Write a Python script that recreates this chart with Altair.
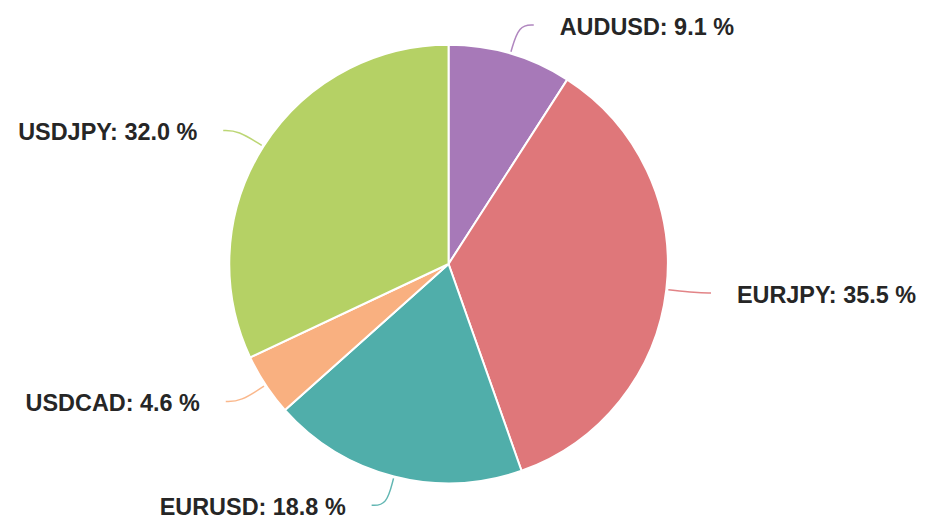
import altair as alt
import pandas as pd

pairs = ["AUDUSD", "EURJPY", "EURUSD", "USDCAD", "USDJPY"]
shares = [9.1, 35.5, 18.8, 4.6, 32.0]
colors = ["#a779b8", "#df777a", "#50aeaa", "#f9b080", "#b5d165"]

df = pd.DataFrame({"pair": pairs, "share": shares, "idx": list(range(len(pairs)))})

W, H = 884, 512
xs = alt.Scale(domain=[-W / 2, W / 2], nice=False, zero=False)
ys = alt.Scale(domain=[-H / 2, H / 2], nice=False, zero=False)
cscale = alt.Scale(domain=pairs, range=colors)

base = (
    alt.Chart(df)
    .transform_joinaggregate(total="sum(share)")
    .transform_window(cum="sum(share)", sort=[alt.SortField("idx")], frame=[None, 0])
    .transform_calculate(
        a="2*PI*(datum.cum - datum.share/2)/datum.total",
    )
    .transform_calculate(s="sin(datum.a)", c="cos(datum.a)")
)

arcs = (
    alt.Chart(df)
    .mark_arc(outerRadius=220, stroke="white", strokeWidth=2)
    .encode(
        theta=alt.Theta("share:Q", stack=True),
        color=alt.Color("pair:N", scale=cscale, legend=None),
        order=alt.Order("idx:Q"),
    )
)

lines = (
    base.transform_calculate(k="[0,1,2]")
    .transform_flatten(["k"])
    .transform_calculate(r="datum.k == 0 ? 222 : 250")
    .transform_calculate(
        lx="datum.r*datum.s + (datum.k == 2 ? (datum.s > 0 ? 15 : -15) : 0)",
        ly="datum.r*datum.c",
    )
    .mark_line(interpolate="basis", strokeWidth=1.5, opacity=0.9)
    .encode(
        x=alt.X("lx:Q", scale=xs, axis=None),
        y=alt.Y("ly:Q", scale=ys, axis=None),
        color=alt.Color("pair:N", scale=cscale, legend=None),
        detail="pair:N",
        order=alt.Order("k:Q"),
    )
)

label_expr = "datum.pair + ': ' + format(datum.share, '.1f') + ' %'"
text_style = dict(baseline="middle", dy=3, fontSize=23.5, fontWeight="bold",
                  font="Liberation Sans", color="#262626")

right_text = (
    base.transform_filter("datum.s > 0")
    .transform_calculate(tx="250*datum.s + 41", ty="250*datum.c", label=label_expr)
    .mark_text(align="left", **text_style)
    .encode(
        x=alt.X("tx:Q", scale=xs, axis=None),
        y=alt.Y("ty:Q", scale=ys, axis=None),
        text="label:N",
    )
)

left_text = (
    base.transform_filter("datum.s <= 0")
    .transform_calculate(tx="250*datum.s - 41", ty="250*datum.c", label=label_expr)
    .mark_text(align="right", **text_style)
    .encode(
        x=alt.X("tx:Q", scale=xs, axis=None),
        y=alt.Y("ty:Q", scale=ys, axis=None),
        text="label:N",
    )
)

chart = (
    alt.layer(arcs, lines, right_text, left_text)
    .properties(
        width=W,
        height=H,
        padding={"left": 0, "top": 0, "right": 30, "bottom": 0},
        autosize="none",
        background="white",
    )
    .configure_view(stroke=None)
)

chart.save("out.html", embed_options={"renderer": "svg", "actions": False})
